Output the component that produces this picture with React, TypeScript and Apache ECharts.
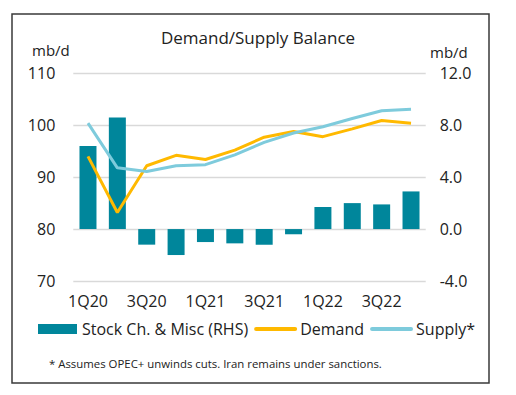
import React, { useEffect, useRef } from "react";
import * as echarts from "echarts";

const categories = ["1Q20", "2Q20", "3Q20", "4Q20", "1Q21", "2Q21", "3Q21", "4Q21", "1Q22", "2Q22", "3Q22", "4Q22"];
const stockChange = [6.4, 8.6, -1.2, -2.0, -1.0, -1.1, -1.2, -0.4, 1.7, 2.0, 1.9, 2.9];
const demand = [94.0, 83.2, 92.2, 94.2, 93.4, 95.2, 97.7, 98.8, 97.8, 99.3, 100.9, 100.4];
const supply = [100.4, 91.8, 91.1, 92.2, 92.4, 94.3, 96.7, 98.5, 99.7, 101.3, 102.8, 103.1];

const FONT = "'Open Sans', 'Noto Sans', sans-serif";
const TEXT = "#222";

export default function App() {
  const ref = useRef<HTMLDivElement>(null);
  useEffect(() => {
    document.body.style.margin = "0";
    const chart = echarts.init(ref.current!, null, { renderer: "svg" });
    chart.setOption({
      animation: false,
      backgroundColor: "#fff",
      textStyle: { fontFamily: FONT, color: TEXT },
      title: {
        text: "Demand/Supply Balance",
        left: "center",
        top: 24,
        textStyle: { fontFamily: FONT, fontSize: 17, fontWeight: "normal", color: TEXT },
      },
      grid: { left: 73.3, right: 90.3, top: 73.3, bottom: 114, containLabel: false },
      legend: {
        left: 33,
        top: 316,
        itemWidth: 39,
        itemHeight: 10,
        itemGap: 6,
        textStyle: { fontFamily: FONT, fontSize: 16, color: TEXT },
        data: [
          { name: "Stock Ch. & Misc (RHS)", icon: "rect" },
          { name: "Demand", itemStyle: { opacity: 0 }, lineStyle: { width: 4, cap: "round" } },
          { name: "Supply*", itemStyle: { opacity: 0 }, lineStyle: { width: 4, cap: "round" } },
        ],
      },
      xAxis: {
        type: "category",
        data: categories,
        axisTick: { show: false },
        axisLine: { show: false },
        axisLabel: { interval: 1, margin: 12, fontSize: 16, color: TEXT, fontFamily: FONT },
      },
      yAxis: [
        {
          type: "value",
          min: 70,
          max: 110,
          interval: 10,
          axisLine: { show: false },
          axisTick: { show: false },
          axisLabel: { margin: 18, fontSize: 16, color: TEXT, fontFamily: FONT },
          splitLine: { lineStyle: { color: "#d9d9d9", width: 1.3 } },
        },
        {
          type: "value",
          min: -4,
          max: 12,
          interval: 4,
          axisLine: { show: false },
          axisTick: { show: false },
          splitLine: { show: false },
          axisLabel: {
            margin: 14,
            fontSize: 16,
            color: TEXT,
            fontFamily: FONT,
            formatter: (v: number) => v.toFixed(1),
          },
        },
      ],
      series: [
        {
          name: "Stock Ch. & Misc (RHS)",
          type: "bar",
          yAxisIndex: 1,
          data: stockChange,
          barWidth: 17,
          itemStyle: { color: "#00869b" },
        },
        {
          name: "Demand",
          type: "line",
          yAxisIndex: 0,
          data: demand,
          symbol: "none",
          lineStyle: { color: "#ffb900", width: 3 },
          itemStyle: { color: "#ffb900" },
        },
        {
          name: "Supply*",
          type: "line",
          yAxisIndex: 0,
          data: supply,
          symbol: "none",
          lineStyle: { color: "#7ecbdc", width: 3 },
          itemStyle: { color: "#7ecbdc" },
        },
      ],
      graphic: [
        {
          type: "rect",
          shape: { x: 12, y: 14, width: 477, height: 369 },
          style: { fill: "none", stroke: "#3a3a3a", lineWidth: 1.5 },
          silent: true,
        },
        {
          type: "text",
          left: 32,
          top: 42,
          style: { text: "mb/d", fontSize: 15, fontFamily: FONT, fill: TEXT },
        },
        {
          type: "text",
          left: 430,
          top: 44,
          style: { text: "mb/d", fontSize: 15, fontFamily: FONT, fill: TEXT },
        },
        {
          type: "text",
          left: 49,
          top: 358,
          style: {
            text: "* Assumes OPEC+ unwinds cuts. Iran remains under sanctions.",
            fontSize: 11.4,
            fontFamily: FONT,
            fill: TEXT,
          },
        },
      ],
    });
    return () => chart.dispose();
  }, []);
  return <div ref={ref} style={{ width: 516, height: 395 }} />;
}
